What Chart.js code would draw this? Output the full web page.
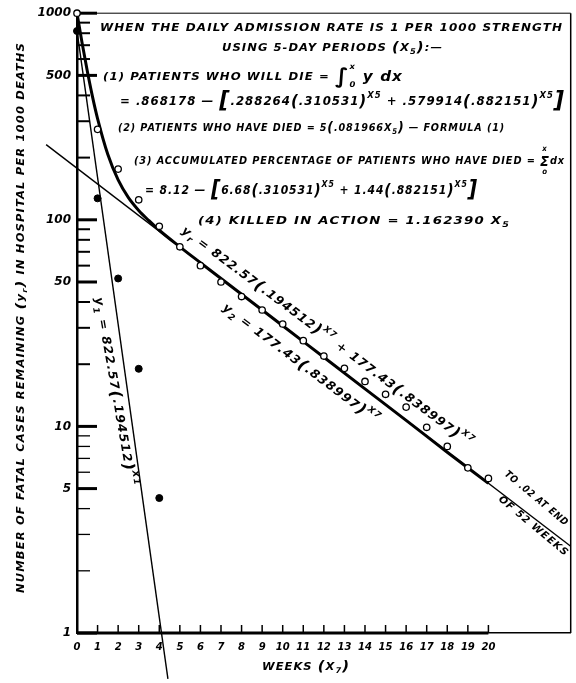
<!DOCTYPE html>
<html>
<head>
<meta charset="utf-8">
<script src="https://cdn.jsdelivr.net/npm/chart.js@4.4.1/dist/chart.umd.min.js"></script>
<style>
  html, body { margin: 0; background: #fff; }
  #wrap { width: 576px; height: 683px; }
</style>
</head>
<body>
<div id="wrap"><canvas id="chart" width="576" height="683"></canvas></div>
<script>
// observed fatal cases remaining (open circles)
const weeks = [0, 1, 2, 3, 4, 5, 6, 7, 8, 9, 10, 11, 12, 13, 14, 15, 16, 17, 18, 19, 20];
const remaining = [1000, 274, 176, 125, 93, 74, 60, 50, 42.5, 36.6, 31.3, 26, 21.9, 19.1, 16.5, 14.3, 12.4, 9.9, 8.0, 6.3, 5.6];

// excess over y2 in the first weeks (filled dots)
const earlyWeeks = [0, 1, 2, 3, 4];
const earlyExcess = [820, 127, 52, 19, 4.5];

// fitted y_r curve (heavy line)
const curveWeeks = [0, 0.25, 0.5, 0.75, 1, 1.5, 2, 2.5, 3, 3.5, 4, 5, 6, 8, 10, 12, 14, 16, 18, 20];
const curveValues = [1000, 716, 525, 396, 309, 207, 156, 128, 111, 99, 89, 74, 62, 43.6, 30.7, 21.6, 15.2, 10.7, 7.5, 5.3];

// straight components y2 and y1 (thin lines), end points
const y2Weeks = [-1.5, 24];
const y2Values = [231, 2.63];
const y1Weeks = [0, 4.42];
const y1Values = [822, 0.6];

const xTicks = [0, 1, 2, 3, 4, 5, 6, 7, 8, 9, 10, 11, 12, 13, 14, 15, 16, 17, 18, 19, 20];
const yTicks = [1, 5, 10, 50, 100, 500, 1000];
const yMinorTicks = [2, 3, 4, 6, 7, 8, 9, 20, 30, 40, 60, 70, 80, 90, 200, 300, 400, 600, 700, 800, 900];

const FAMILY = "'DejaVu Sans', sans-serif";
const fontAt = s => `italic bold ${s}px ${FAMILY}`;

// draw a run of text pieces, stretched to a given width
function drawRich(ctx, parts, x, y, width, size, angle) {
  const spec = { n: [1, 0], s: [0.72, -0.55], b: [0.72, 0.3], p: [1.3, 0.1], L: [1.9, 0.25] };
  ctx.save();
  ctx.letterSpacing = '1px';
  let total = 0;
  const items = parts.map(([t, k = 'n']) => {
    let w;
    if (k === 'lim') {
      const [u, l] = t.split('|');
      ctx.font = fontAt(size * 0.72);
      w = Math.max(ctx.measureText(u).width, ctx.measureText(l).width);
    } else if (k === 'sig') {
      ctx.font = fontAt(size * 1.35);
      w = ctx.measureText(t.split('|')[0]).width;
    } else {
      ctx.font = fontAt(size * spec[k][0]);
      w = ctx.measureText(t).width;
    }
    total += w;
    return { t, k, w };
  });
  ctx.translate(x, y);
  ctx.rotate((angle || 0) * Math.PI / 180);
  ctx.scale(width / total, 1);
  ctx.fillStyle = '#000';
  ctx.textBaseline = 'alphabetic';
  let cx = 0;
  items.forEach(it => {
    if (it.k === 'lim') {
      const [u, l] = it.t.split('|');
      ctx.font = fontAt(size * 0.72);
      ctx.fillText(u, cx, -size * 1.0);
      ctx.fillText(l, cx, size * 0.6);
    } else if (it.k === 'sig') {
      const [s, u, l] = it.t.split('|');
      ctx.font = fontAt(size * 1.35);
      ctx.fillText(s, cx, size * 0.15);
      ctx.font = fontAt(size * 0.72);
      ctx.textAlign = 'center';
      ctx.fillText(u, cx + it.w / 2, -size * 1.15);
      ctx.fillText(l, cx + it.w / 2, size * 0.95);
      ctx.textAlign = 'left';
    } else {
      const [f, dy] = spec[it.k];
      ctx.font = fontAt(size * f);
      ctx.fillText(it.t, cx, dy * size);
    }
    cx += it.w;
  });
  ctx.restore();
}

function seg(ctx, x1, y1, x2, y2, w) {
  ctx.lineWidth = w;
  ctx.beginPath();
  ctx.moveTo(x1, y1);
  ctx.lineTo(x2, y2);
  ctx.stroke();
}

const paper = {
  id: 'paper',
  beforeDatasetsDraw(chart) {
    const { ctx, chartArea: a, scales: { x, y } } = chart;
    ctx.save();
    ctx.strokeStyle = '#000';
    seg(ctx, a.left, a.top, a.right, a.top, 1);
    seg(ctx, a.right, a.top, a.right, a.bottom, 1.5);
    yTicks.forEach(v => {
      const py = y.getPixelForValue(v);
      seg(ctx, a.left, py, a.left + 20, py, 3);
    });
    yMinorTicks.forEach(v => {
      const py = y.getPixelForValue(v);
      seg(ctx, a.left, py, a.left + 13, py, v < 10 ? 1.3 : 2);
    });
    xTicks.forEach(v => {
      const px = x.getPixelForValue(v);
      seg(ctx, px, a.bottom, px, a.bottom - 8, 1.5);
    });
    seg(ctx, a.left, a.bottom, x.getPixelForValue(20), a.bottom, 3);
    ctx.restore();
  },
  afterDatasetsDraw(chart) {
    const { ctx } = chart;
    drawRich(ctx, [['WHEN THE DAILY ADMISSION RATE IS 1 PER 1000 STRENGTH']], 100, 31, 463, 11);
    drawRich(ctx, [['USING 5-DAY PERIODS '], ['(', 'p'], ['X'], ['5', 'b'], [')', 'p'], [':—']], 222, 51, 221, 11);
    drawRich(ctx, [['(1) PATIENTS WHO WILL DIE = '], ['∫', 'L'], ['x|0', 'lim'], [' y dx', 'p']], 103, 80, 300, 11);
    drawRich(ctx, [['= .868178 — '], ['[', 'L'], ['.288264'], ['(', 'p'], ['.310531'], [')', 'p'], ['X5', 's'],
      [' + .579914'], ['(', 'p'], ['.882151'], [')', 'p'], ['X5', 's'], [']', 'L']], 120, 105, 445, 12);
    drawRich(ctx, [['(2) PATIENTS WHO HAVE DIED = 5'], ['(', 'p'], ['.081966X'], ['5', 'b'], [')', 'p'],
      [' — FORMULA (1)']], 118, 131, 387, 11);
    drawRich(ctx, [['(3) ACCUMULATED PERCENTAGE OF PATIENTS WHO HAVE DIED = '], ['Σ|x|o', 'sig'], ['dx']],
      134, 164, 431, 11);
    drawRich(ctx, [['= 8.12 — '], ['[', 'L'], ['6.68'], ['(', 'p'], ['.310531'], [')', 'p'], ['X5', 's'],
      [' + 1.44'], ['(', 'p'], ['.882151'], [')', 'p'], ['X5', 's'], [']', 'L']], 145, 194, 333, 12);
    drawRich(ctx, [['(4) KILLED IN ACTION = 1.162390 X'], ['5', 'b']], 198, 224, 312, 11);

    drawRich(ctx, [['y'], ['r', 'b'], [' = 822.57'], ['(', 'p'], ['.194512'], [')', 'p'], ['X7', 's'],
      [' + 177.43'], ['(', 'p'], ['.838997'], [')', 'p'], ['X7', 's']], 181, 232, 360, 12, 36.8);
    drawRich(ctx, [['y'], ['2', 'b'], [' = 177.43'], ['(', 'p'], ['.838997'], [')', 'p'], ['X7', 's']],
      222, 309, 192, 12, 37);
    drawRich(ctx, [['y'], ['1', 'b'], [' = 822.57'], ['(', 'p'], ['.194512'], [')', 'p'], ['X1', 's']],
      95, 298, 192, 12, 80);
    drawRich(ctx, [['TO .02 AT END']], 504, 475, 80, 10, 40);
    drawRich(ctx, [['OF 52 WEEKS']], 498, 500, 88, 10, 40);

    drawRich(ctx, [['NUMBER OF FATAL CASES REMAINING '], ['(', 'p'], ['y'], ['r', 'b'], [')', 'p'],
      [' IN HOSPITAL PER 1000 DEATHS']], 24, 593, 551, 10, -90);
    drawRich(ctx, [['WEEKS '], ['(', 'p'], ['X'], ['7', 'b'], [')', 'p']], 262, 670, 88, 11);
  }
};

const pts = (xs, ys) => xs.map((v, i) => ({ x: v, y: ys[i] }));

new Chart(document.getElementById('chart'), {
  type: 'scatter',
  data: {
    datasets: [
      {
        label: 'observed',
        data: pts(weeks, remaining),
        showLine: false,
        pointRadius: 3.2,
        pointBackgroundColor: '#fff',
        pointBorderColor: '#000',
        pointBorderWidth: 1.3,
        clip: false
      },
      {
        label: 'early excess',
        data: pts(earlyWeeks, earlyExcess),
        showLine: false,
        pointRadius: 3.5,
        pointBackgroundColor: '#000',
        pointBorderColor: '#000',
        clip: false
      },
      {
        label: 'y_r',
        data: pts(curveWeeks, curveValues),
        showLine: true,
        borderColor: '#000',
        borderWidth: 3,
        pointRadius: 0,
        cubicInterpolationMode: 'monotone',
        clip: false
      },
      {
        label: 'y2',
        data: pts(y2Weeks, y2Values),
        showLine: true,
        borderColor: '#000',
        borderWidth: 1.4,
        pointRadius: 0,
        clip: false
      },
      {
        label: 'y1',
        data: pts(y1Weeks, y1Values),
        showLine: true,
        borderColor: '#000',
        borderWidth: 1.4,
        pointRadius: 0,
        clip: false
      }
    ]
  },
  options: {
    responsive: false,
    animation: false,
    devicePixelRatio: 1,
    layout: { padding: { top: 7, right: 1, left: 0, bottom: 0 } },
    plugins: { legend: { display: false }, tooltip: { enabled: false } },
    scales: {
      x: {
        type: 'linear',
        min: 0,
        max: 24,
        afterBuildTicks: s => { s.ticks = xTicks.map(v => ({ value: v })); },
        afterFit: s => { s.height = 50; },
        grid: { display: false, drawTicks: false },
        border: { display: true, color: '#000', width: 1.5 },
        ticks: {
          color: '#000',
          padding: 8,
          maxRotation: 0,
          autoSkip: false,
          font: { family: FAMILY, size: 10, weight: 'bold', style: 'italic' }
        }
      },
      y: {
        type: 'logarithmic',
        min: 1,
        max: 1000,
        afterBuildTicks: s => { s.ticks = yTicks.map(v => ({ value: v })); },
        afterFit: s => { s.width = 77; },
        grid: { display: false, drawTicks: false },
        border: { display: true, color: '#000', width: 2.5 },
        ticks: {
          color: '#000',
          padding: 6,
          autoSkip: false,
          callback: v => String(v),
          font: { family: FAMILY, size: 12, weight: 'bold', style: 'italic' }
        }
      }
    }
  },
  plugins: [paper]
});
</script>
</body>
</html>
